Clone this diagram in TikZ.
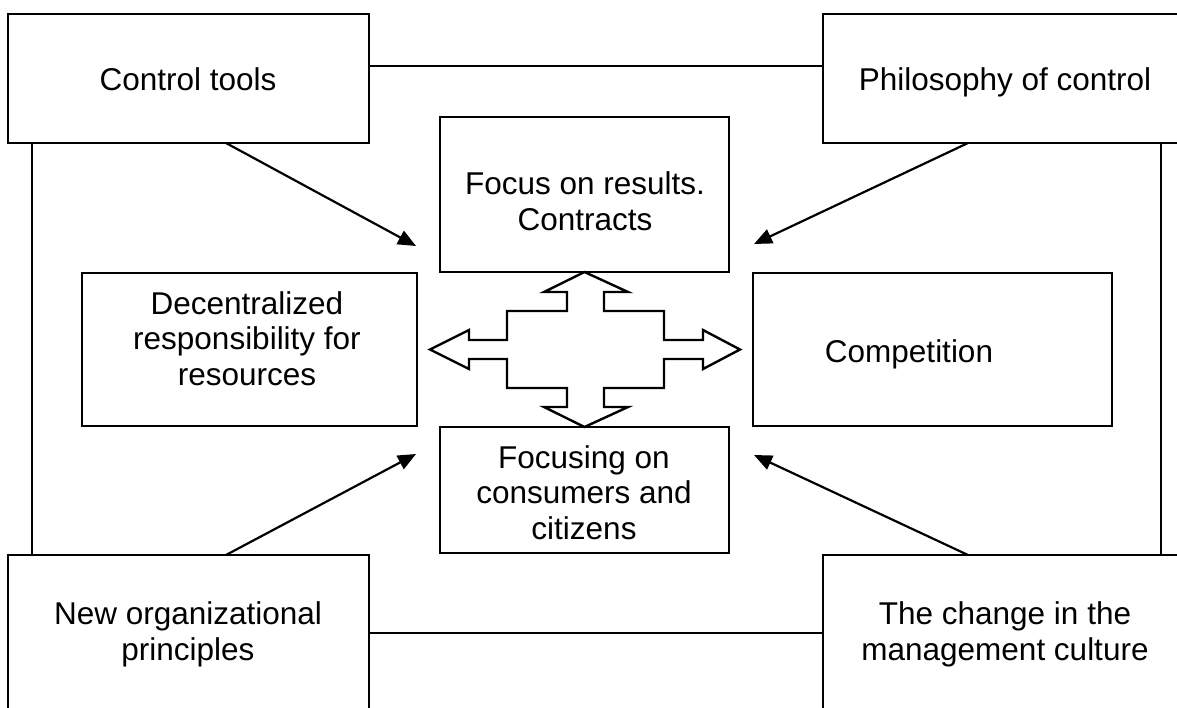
\documentclass[tikz,border=0pt]{standalone}
\usepackage{fontspec}
\setmainfont{Liberation Sans}
\usetikzlibrary{arrows.meta,calc}
\begin{document}
\begin{tikzpicture}[x=1pt,y=-1pt,
  box/.style={draw,line width=2.4pt,rectangle,inner sep=0pt,outer sep=0pt},
  txt/.style={align=center,anchor=base,inner sep=0pt,font=\fontsize{31.5}{35.5}\selectfont},
  link/.style={line width=2.2pt},
  pointer/.style={line width=2.2pt,-{Triangle[length=18pt,width=15pt]}}]
\useasboundingbox (0,0) rectangle (1177,707);
\fill[white] (0,0) rectangle (1177,707);
\clip (0,0) rectangle (1177,707);
% corner boxes
\node[box,minimum width=361pt,minimum height=129pt] (ct) at (188.5,78.5) {};
\node[box,minimum width=364pt,minimum height=129pt] (ph) at (1005,78.5) {};
\node[box,minimum width=361pt,minimum height=160pt] (no) at (188.5,635) {};
\node[box,minimum width=364pt,minimum height=160pt] (ch) at (1005,635) {};
% central boxes
\node[box,minimum width=289pt,minimum height=155pt] (fr) at (584.5,194.5) {};
\node[box,minimum width=335pt,minimum height=153pt] (dc) at (249.5,349.5) {};
\node[box,minimum width=359pt,minimum height=153pt] (cp) at (932.5,349.5) {};
\node[box,minimum width=289pt,minimum height=126pt] (fc) at (584.5,490) {};
% texts
\node[txt] (ctt) at (188,90) {Control tools};
\node[txt] (pht) at (1005,90) {Philosophy of control};
\node[txt] (frt) at (585,230) {Focus on results.\\Contracts};
\node[txt] (dct) at (247,385) {Decentralized\\responsibility for\\resources};
\node[txt] (cpt) at (909,362) {Competition};
\node[txt] (fct) at (584,539) {Focusing on\\consumers and\\citizens};
\node[txt] (not) at (188,660) {New organizational\\principles};
\node[txt] (cht) at (1005,660) {The change in the\\management culture};
% frame lines
\draw[link] ([yshift=-52pt]ct.north east) -- ([yshift=-52pt]ph.north west);
\draw[link] ([yshift=-78pt]no.north east) -- ([yshift=-78pt]ch.north west);
\draw[link] ([xshift=24pt]ct.south west) -- ([xshift=24pt]no.north west);
\draw[link] ([xshift=338pt]ph.south west) -- ([xshift=338pt]ch.north west);
% diagonal arrows
\coordinate (t1) at (416,246);
\coordinate (t2) at (754,244);
\coordinate (t3) at (416,454);
\coordinate (t4) at (754,455);
\draw[pointer] ([xshift=218pt]ct.south west) -- (t1);
\draw[pointer] ([xshift=145pt]ph.south west) -- (t2);
\draw[pointer] ([xshift=218pt]no.north west) -- (t3);
\draw[pointer] ([xshift=145pt]ch.north west) -- (t4);
% four-way block arrow
\draw[line width=2.4pt,line join=miter,fill=white]
  (fr.south) -- (628,292) -- (604,292) -- (604,311) -- (664,311) -- (664,340)
  -- (703,340) -- (703,330) -- (740,349.5) -- (703,369) -- (703,359) -- (664,359)
  -- (664,388) -- (604,388) -- (604,407) -- (628,407) -- (fc.north)
  -- (544,407) -- (567,407) -- (567,388) -- (507,388) -- (507,359) -- (469,359)
  -- (469,369) -- (430,349.5) -- (469,330) -- (469,340) -- (507,340) -- (507,311)
  -- (567,311) -- (567,292) -- (544,292) -- cycle;
\end{tikzpicture}
\end{document}
